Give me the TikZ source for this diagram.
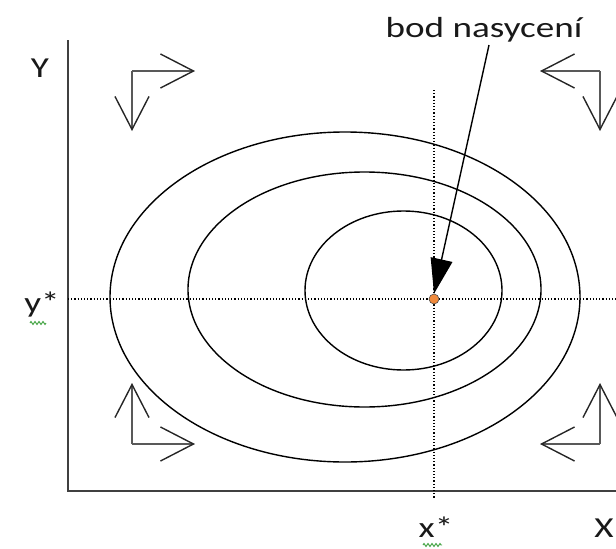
\documentclass[tikz,border=0pt]{standalone}
\usepackage{fontspec}
\setmainfont{Carlito}
\usetikzlibrary{arrows.meta,decorations.pathmorphing}
\definecolor{axisgray}{HTML}{404040}
\definecolor{dotorange}{HTML}{F08A3C}
\definecolor{squig}{HTML}{3CA03C}
\begin{document}
\begin{tikzpicture}[x=1pt,y=-1pt,
  lbl/.style={font=\fontsize{29}{32}\selectfont, inner sep=0pt, xscale=1.28, text=black!90},
  axisline/.style={line width=2.4pt, draw=axisgray},
  guide/.style={dotted, line width=1.2pt},
  curve/.style={line width=1.4pt},
  turnarrow/.style={line width=2.6pt, draw=gray!70!black,
     -{Straight Barb[length=33pt,width=34pt,line width=1.4pt,color=black!85]}},
  squiggle/.style={draw=squig, line width=0.9pt, decorate,
     decoration={zigzag, segment length=4pt, amplitude=1.5pt}}]
\useasboundingbox (0,0) rectangle (616,549);
% axes
\coordinate (yTop) at (68,40);
\coordinate (orig) at (68,491);
\coordinate (xEnd) at (616,491);
\draw[axisline] (yTop) -- (orig) -- (xEnd);
% guides
\coordinate (gl) at (68,299);
\coordinate (gr) at (616,299);
\coordinate (gt) at (434,90);
\coordinate (gb) at (434,498);
\draw[guide] (gl) -- (gr);
\draw[guide] (gt) -- (gb);
% ellipses
\draw[curve] (345,297) ellipse [x radius=235, y radius=165];
\draw[curve] (364.5,289.5) ellipse [x radius=176.5, y radius=117.5];
\draw[curve] (403.5,290.5) ellipse [x radius=98.5, y radius=79.5];
% saturation point
\node[circle, fill=dotorange, draw=black!70, line width=0.6pt, minimum size=10pt, inner sep=0pt] (pt) at (434,299) {};
% annotation
\node[lbl, anchor=base] (bod) at (484,37) {bod nasycení};
\coordinate (arrStart) at (489,45);
\draw[line width=1.4pt, -{Triangle[length=35pt,width=22pt]}] (arrStart) -- (pt.north);
% axis labels
\node[lbl, anchor=base] (Ylab) at (40,77) {Y};
\node[lbl, anchor=base] (Xlab) at (604,537) {X};
\node[lbl, anchor=base] (ystar) at (42,312) {y*};
\node[lbl, anchor=base] (xstar) at (436,537) {x*};
\draw[squiggle] (30,323) -- (46,323);
\draw[squiggle] (423,545) -- (442,545);
% corner arrows
\coordinate (c1) at (132,71);
\coordinate (c1r) at (195,71);
\coordinate (c1d) at (132,131);
\draw[turnarrow] (c1) -- (c1r);
\draw[turnarrow] (c1) -- (c1d);
\coordinate (c2) at (600,71);
\coordinate (c2l) at (540,71);
\coordinate (c2d) at (600,131);
\draw[turnarrow] (c2) -- (c2l);
\draw[turnarrow] (c2) -- (c2d);
\coordinate (c3) at (132,444);
\coordinate (c3u) at (132,383);
\coordinate (c3r) at (195,444);
\draw[turnarrow] (c3) -- (c3u);
\draw[turnarrow] (c3) -- (c3r);
\coordinate (c4) at (600,444);
\coordinate (c4u) at (600,383);
\coordinate (c4l) at (540,444);
\draw[turnarrow] (c4) -- (c4u);
\draw[turnarrow] (c4) -- (c4l);
\end{tikzpicture}
\end{document}
